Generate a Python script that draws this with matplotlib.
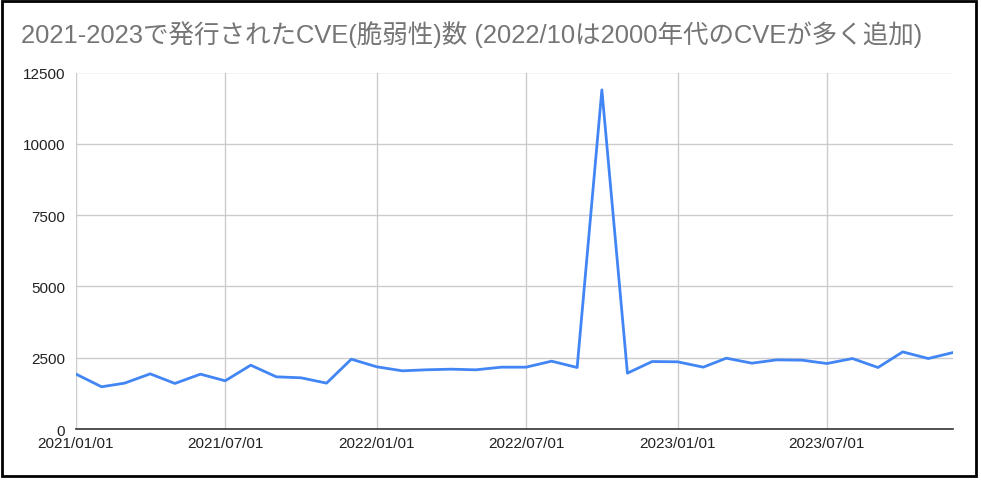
import matplotlib
matplotlib.use("Agg")
import matplotlib.pyplot as plt
import matplotlib.dates as mdates
import numpy as np
import pandas as pd
from matplotlib.patches import Rectangle

plt.rcParams['font.family'] = ['Liberation Sans', 'Noto Sans CJK JP', 'DejaVu Sans']

title = "2021-2023で発行されたCVE(脆弱性)数 (2022/10は2000年代のCVEが多く追加)"
months = pd.date_range("2021-01-01", "2023-12-01", freq="MS")
cve_counts = [
    1925, 1480, 1608, 1934, 1597, 1923, 1690, 2238, 1830, 1795, 1608, 2448,
    2180, 2040, 2075, 2098, 2075, 2168, 2168, 2378, 2156, 11890, 1958, 2366,
    2355, 2168, 2483, 2308, 2424, 2413, 2296, 2471, 2156, 2704, 2471, 2681,
]
y_ticks = [0, 2500, 5000, 7500, 10000, 12500]
x_ticks = ["2021-01-01", "2021-07-01", "2022-01-01", "2022-07-01", "2023-01-01", "2023-07-01"]

fig = plt.figure(figsize=(9.81, 4.81), dpi=100)
ax = fig.add_axes([76/981, 1-430/481, (953-76)/981, (430-73.5)/481])

ax.plot(months, cve_counts, color="#4285F4", linewidth=2.0, solid_joinstyle="round")

ax.set_ylim(0, 12500)
ax.set_yticks(y_ticks)
ax.set_yticklabels([str(v) for v in y_ticks])
ax.set_xlim(pd.Timestamp("2021-01-01"), pd.Timestamp("2023-12-01"))
ax.set_xticks([pd.Timestamp(t) for t in x_ticks])
ax.xaxis.set_major_formatter(mdates.DateFormatter("%Y/%m/%d"))

ax.grid(True, color="#cccccc", linewidth=1)
ax.set_axisbelow(True)
for s in ["top", "right", "left"]:
    ax.spines[s].set_visible(False)
ax.spines["bottom"].set_color("#333333")
ax.spines["bottom"].set_linewidth(1.2)
ax.tick_params(axis="both", length=0, labelsize=11, colors="#222222")
ax.tick_params(axis="y", pad=8)
ax.tick_params(axis="x", pad=5)

fig.text(21/981, 1-35/481, title, fontsize=18.4, color="#757575", va="center", ha="left")

fig.patches.append(Rectangle((2/981, 4/481), 974/981, 475/481, transform=fig.transFigure,
                             fill=False, edgecolor="black", linewidth=2))

fig.savefig("out.png", dpi=100)
